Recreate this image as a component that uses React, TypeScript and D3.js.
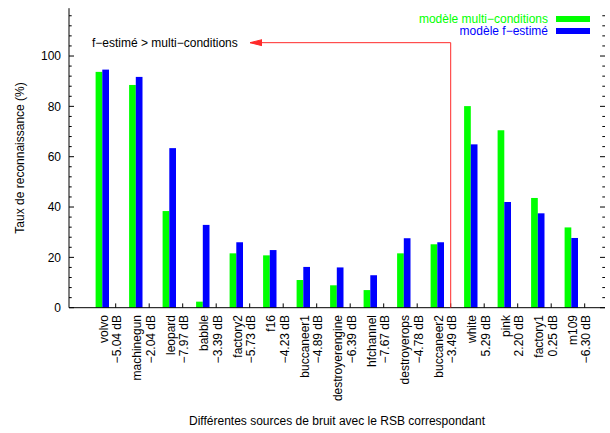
import React from "react";
import * as d3 from "d3";

const WIDTH = 610;
const HEIGHT = 433;

const sources = [
  "volvo", "machinegun", "leopard", "babble", "factory2", "f16", "buccaneer1",
  "destroyerengine", "hfchannel", "destroyerops", "buccaneer2", "white", "pink",
  "factory1", "m109",
];
const snr = [
  "−5.04 dB", "−2.04 dB", "−7.97 dB", "−3.39 dB", "−5.73 dB", "−4.23 dB", "−4.89 dB",
  "−6.39 dB", "−7.67 dB", "−4.78 dB", "−3.49 dB", "5.29 dB", "2.20 dB",
  "0.25 dB", "−6.30 dB",
];
const multiConditions = [93.7, 88.5, 38.4, 2.4, 21.6, 20.8, 11.0, 8.9, 7.0, 21.6, 25.2, 80.1, 70.5, 43.6, 31.9];
const fEstime = [94.6, 91.7, 63.4, 32.9, 26.0, 22.9, 16.2, 16.0, 12.9, 27.6, 26.0, 64.9, 42.0, 37.5, 27.7];

const yTicks = [0, 20, 40, 60, 80, 100];

const GREEN = "#00ff00";
const BLUE = "#0000ff";
const RED = "#ff2a2a";
const FONT = "'Liberation Sans', Arial, Helvetica, sans-serif";

const LEFT = 69;
const RIGHT = 605;
const TOP = 8.2;
const BOTTOM = 307.7;

export default function App() {
  const x = d3.scaleBand<string>().domain(sources).range([85.55, 588.05]).padding(0);
  const y = d3.scaleLinear().domain([0, 119]).range([BOTTOM, TOP]);

  const step = x.step();
  const barW = step * 0.2;
  const center = (s: string) => (x(s) as number) + x.bandwidth() / 2;
  const tickX = (s: string) => center(s) + step * 0.4;

  const minor = d3.range(0, 117, 4);

  // arrow: from buccaneer2 tick up to the annotation
  const arrowX = tickX("buccaneer2");
  const arrowY = y(105.3);
  const arrowEnd = 250;

  return (
    <div style={{ position: "fixed", left: 0, top: 0, width: WIDTH, height: HEIGHT, background: "#fff" }}>
      <svg width={WIDTH} height={HEIGHT} fontFamily={FONT} fontSize={12}>
        <rect width={WIDTH} height={HEIGHT} fill="#fff" />

        {/* bars */}
        {sources.map((s, i) => (
          <g key={s}>
            <rect x={center(s) - barW} y={y(multiConditions[i])} width={barW} height={BOTTOM - y(multiConditions[i])} fill={GREEN} />
            <rect x={center(s)} y={y(fEstime[i])} width={barW} height={BOTTOM - y(fEstime[i])} fill={BLUE} />
          </g>
        ))}

        {/* axes */}
        <g stroke="#000" strokeWidth={1} fill="none">
          <line x1={LEFT} x2={LEFT} y1={TOP} y2={BOTTOM} />
          <line x1={LEFT} x2={RIGHT} y1={BOTTOM} y2={BOTTOM} />
          {minor.map((v) => {
            const major = v % 20 === 0;
            const len = major ? 5 : 2.7;
            return (
              <g key={v}>
                <line x1={LEFT} x2={LEFT + len} y1={y(v)} y2={y(v)} />
                <line x1={RIGHT} x2={RIGHT - len} y1={y(v)} y2={y(v)} />
              </g>
            );
          })}
          {sources.map((s) => (
            <line key={s} x1={tickX(s)} x2={tickX(s)} y1={BOTTOM} y2={BOTTOM - 4.3} />
          ))}
        </g>

        {/* y tick labels */}
        {yTicks.map((v) => (
          <text key={v} x={61} y={y(v)} dy="0.35em" textAnchor="end" fill="#000">
            {v}
          </text>
        ))}

        {/* x tick labels */}
        {sources.map((s, i) => (
          <g key={s} fill="#000" textAnchor="end">
            <text transform={`translate(${tickX(s) - 8},315) rotate(-90)`}>{s}</text>
            <text transform={`translate(${tickX(s) + 5.5},315) rotate(-90)`}>{snr[i]}</text>
          </g>
        ))}

        {/* titles */}
        <text transform={`translate(24,${(TOP + BOTTOM) / 2}) rotate(-90)`} textAnchor="middle" fill="#000">
          Taux de reconnaissance (%)
        </text>
        <text x={(LEFT + RIGHT) / 2} y={425} textAnchor="middle" fill="#000">
          Différentes sources de bruit avec le RSB correspondant
        </text>

        {/* annotation */}
        <g stroke={RED} strokeWidth={1} fill="none">
          <polyline points={`${arrowX},${BOTTOM} ${arrowX},${arrowY} ${arrowEnd},${arrowY}`} />
          <polyline points={`${arrowEnd + 12},${arrowY - 3} ${arrowEnd},${arrowY} ${arrowEnd + 12},${arrowY + 3}`} fill={RED} />
        </g>
        <text x={92} y={arrowY} dy="0.35em" fill="#000">
          f−estimé &gt; multi−conditions
        </text>

        {/* legend */}
        <text x={548} y={19} dy="0.35em" textAnchor="end" fill={GREEN}>modèle multi−conditions</text>
        <rect x={556} y={16} width={34} height={6} fill={GREEN} />
        <text x={548} y={31} dy="0.35em" textAnchor="end" fill={BLUE}>modèle f−estimé</text>
        <rect x={556} y={28} width={34} height={6} fill={BLUE} />
      </svg>
    </div>
  );
}
